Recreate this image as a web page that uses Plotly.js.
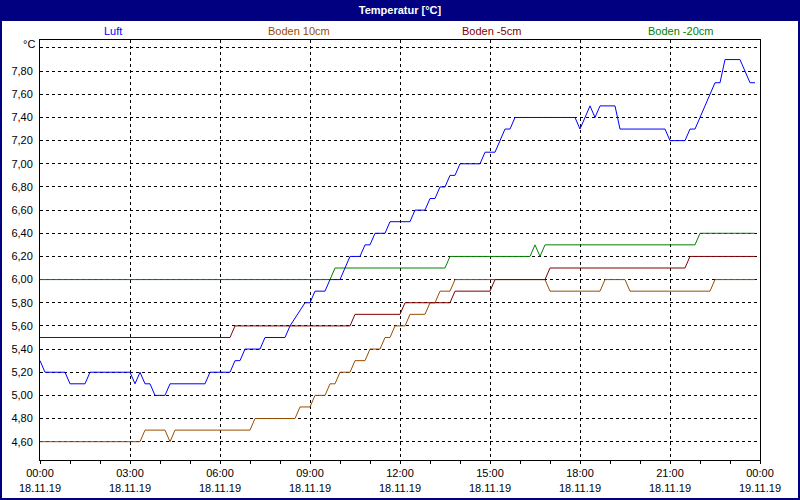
<!DOCTYPE html>
<html>
<head>
<meta charset="utf-8">
<script src="https://cdn.plot.ly/plotly-3.0.1.min.js"></script>
<style>
html,body{margin:0;padding:0;background:#fff;}
#chart{width:800px;height:500px;}
</style>
</head>
<body>
<div id="chart"></div>
<script>
// ---- data (time in minutes since 18.11.19 00:00) ----
const luftTime = [0,10,50,60,90,100,180,190,200,210,220,230,250,260,330,340,380,390,400,410,440,450,490,500,530,540,550,570,580,600,620,640,650,660,670,690,700,740,750,770,780,790,800,810,820,830,840,880,890,910,930,940,950,1070,1080,1100,1110,1120,1150,1160,1250,1260,1290,1300,1310,1350,1360,1370,1400,1420,1430];
const luftTemp = [5.3,5.2,5.2,5.1,5.1,5.2,5.2,5.1,5.2,5.1,5.1,5.0,5.0,5.1,5.1,5.2,5.2,5.3,5.3,5.4,5.4,5.5,5.5,5.6,5.8,5.8,5.9,5.9,6.0,6.0,6.2,6.2,6.3,6.3,6.4,6.4,6.5,6.5,6.6,6.6,6.7,6.7,6.8,6.8,6.9,6.9,7.0,7.0,7.1,7.1,7.3,7.3,7.4,7.4,7.3,7.5,7.4,7.5,7.5,7.3,7.3,7.2,7.2,7.3,7.3,7.7,7.7,7.9,7.9,7.7,7.7];

const boden10Time = [0,200,210,250,260,270,420,430,510,520,540,550,570,580,590,600,620,630,650,660,680,690,700,710,730,740,770,780,790,800,820,830,1010,1020,1120,1130,1170,1180,1340,1350,1430];
const boden10Temp = [4.6,4.6,4.7,4.7,4.6,4.7,4.7,4.8,4.8,4.9,4.9,5.0,5.0,5.1,5.1,5.2,5.2,5.3,5.3,5.4,5.4,5.5,5.5,5.6,5.6,5.7,5.7,5.8,5.8,5.9,5.9,6.0,6.0,5.9,5.9,6.0,6.0,5.9,5.9,6.0,6.0];

const boden5Time = [0,380,390,620,630,720,730,820,830,900,910,1010,1020,1290,1300,1430];
const boden5Temp = [5.5,5.5,5.6,5.6,5.7,5.7,5.8,5.8,5.9,5.9,6.0,6.0,6.1,6.1,6.2,6.2];

const boden20Time = [0,580,590,810,820,980,990,1000,1010,1310,1320,1430];
const boden20Temp = [6.0,6.0,6.1,6.1,6.2,6.2,6.3,6.2,6.3,6.3,6.4,6.4];

const seriesNames = ['Luft','Boden 10cm','Boden -5cm','Boden -20cm'];
const seriesColors = ['#0000ff','#994c00','#800000','#008000'];

const xTickVals = [0,180,360,540,720,900,1080,1260,1440];
const xTickText = ['00:00<br>18.11.19','03:00<br>18.11.19','06:00<br>18.11.19','09:00<br>18.11.19','12:00<br>18.11.19','15:00<br>18.11.19','18:00<br>18.11.19','21:00<br>18.11.19','00:00<br>19.11.19'];
const yTickVals = [4.6,4.8,5.0,5.2,5.4,5.6,5.8,6.0,6.2,6.4,6.6,6.8,7.0,7.2,7.4,7.6,7.8,8.0];
const yTickText = ['4,60','4,80','5,00','5,20','5,40','5,60','5,80','6,00','6,20','6,40','6,60','6,80','7,00','7,20','7,40','7,60','7,80',''];

// ---- build ----
const FONT = 'Liberation Sans, Arial, sans-serif';
const L = 40, R = 40, T = 40, B = 40, W = 800, H = 500;
const pw = W - L - R, ph = H - T - B;
const px = v => (v - L) / pw;          // pixel x -> paper
const py = v => (H - B - v) / ph;      // pixel y -> paper

const xs = [luftTime, boden10Time, boden5Time, boden20Time];
const ys = [luftTemp, boden10Temp, boden5Temp, boden20Temp];
const traces = seriesNames.map((n, i) => ({
  type: 'scatter', mode: 'lines', name: n,
  x: xs[i], y: ys[i],
  line: {color: seriesColors[i], width: 1},
  showlegend: false, hoverinfo: 'skip'
}));
// draw Luft last so it is on top
traces.push(traces.shift());

const legendX = [113, 299, 491, 680];
const annotations = seriesNames.map((n, i) => ({
  xref: 'paper', yref: 'paper', x: px(legendX[i]), y: py(31),
  xanchor: 'center', yanchor: 'middle', showarrow: false,
  text: n, font: {family: FONT, size: 11, color: seriesColors[i]}
}));
annotations.push({
  xref: 'paper', yref: 'paper', x: px(37), y: py(44.5),
  xanchor: 'right', yanchor: 'middle', showarrow: false,
  text: '°C', font: {family: FONT, size: 11, color: '#000'}
});

const layout = {
  width: W, height: H,
  margin: {l: L, r: R, t: T, b: B, pad: 0},
  paper_bgcolor: '#ffffff', plot_bgcolor: '#ffffff',
  font: {family: FONT, size: 11, color: '#000'},
  title: {
    text: 'Temperatur [°C]',
    font: {family: FONT, size: 11, color: '#ffffff', weight: 'bold'},
    x: 0.5, xanchor: 'center', xref: 'container',
    y: 1 - 10.5 / H, yanchor: 'middle', yref: 'container'
  },
  xaxis: {
    range: [0, 1440], fixedrange: true,
    tickmode: 'array', tickvals: xTickVals, ticktext: xTickText,
    showgrid: true, gridcolor: '#000', gridwidth: 1, griddash: '3px,3px',
    showline: true, mirror: true, linecolor: '#000', linewidth: 1,
    ticks: 'outside', ticklen: 3, tickcolor: '#000', tickwidth: 1,
    minor: {dtick: 60, tick0: 0, ticks: 'outside', ticklen: 3, tickcolor: '#000', showgrid: false},
    zeroline: false,
    tickfont: {family: FONT, size: 11, color: '#000'}
  },
  yaxis: {
    range: [4.442, 8.069], fixedrange: true,
    tickmode: 'array', tickvals: yTickVals, ticktext: yTickText,
    showgrid: true, gridcolor: '#000', gridwidth: 1, griddash: '3px,3px',
    showline: true, mirror: true, linecolor: '#000', linewidth: 1,
    ticks: '', zeroline: false, ticklabelstandoff: 4,
    tickfont: {family: FONT, size: 11, color: '#000'}
  },
  shapes: [
    {type: 'rect', xref: 'paper', yref: 'paper', layer: 'below',
     x0: px(0), x1: px(800), y0: py(21), y1: py(0),
     fillcolor: '#000080', line: {width: 0}},
    {type: 'rect', xref: 'paper', yref: 'paper', layer: 'above',
     x0: px(1), x1: px(799), y0: py(499), y1: py(0),
     fillcolor: 'rgba(0,0,0,0)', line: {color: '#000080', width: 2}}
  ],
  annotations: annotations
};

Plotly.newPlot('chart', traces, layout, {displayModeBar: false, staticPlot: true});
</script>
</body>
</html>
